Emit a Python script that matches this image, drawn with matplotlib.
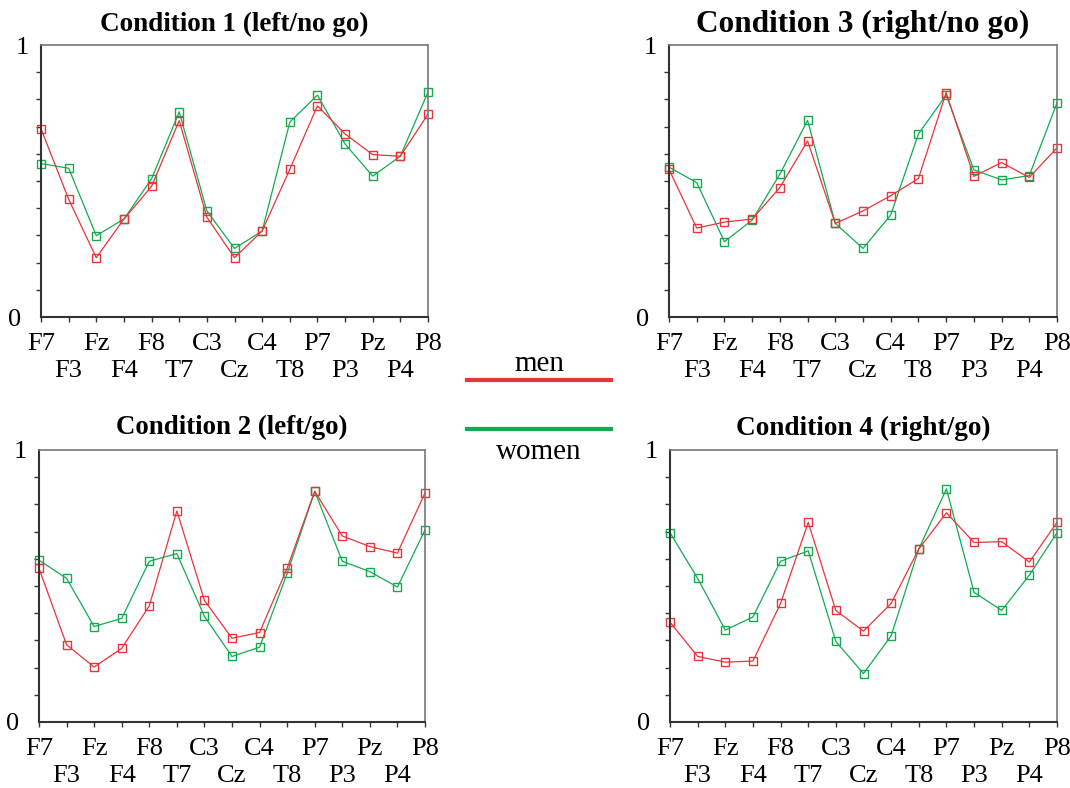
import matplotlib

matplotlib.use("Agg")
import matplotlib.pyplot as plt
from matplotlib.lines import Line2D
from matplotlib.transforms import ScaledTranslation

ELECTRODES = ["F7", "F3", "Fz", "F4", "F8", "T7", "C3", "Cz",
              "C4", "T8", "P7", "P3", "Pz", "P4", "P8"]

# condition 1 (left/no go)
c1_men = [0.692, 0.433, 0.218, 0.360, 0.480, 0.722, 0.367, 0.218,
          0.316, 0.543, 0.776, 0.673, 0.597, 0.591, 0.746]
c1_women = [0.564, 0.547, 0.299, 0.360, 0.508, 0.754, 0.390, 0.252,
            0.316, 0.716, 0.816, 0.636, 0.518, 0.591, 0.827]

# condition 2 (left/go)
c2_men = [0.565, 0.284, 0.202, 0.271, 0.427, 0.776, 0.447, 0.308,
          0.329, 0.565, 0.848, 0.684, 0.645, 0.621, 0.842]
c2_women = [0.595, 0.528, 0.351, 0.381, 0.591, 0.619, 0.388, 0.241,
            0.275, 0.546, 0.848, 0.591, 0.553, 0.496, 0.706]

# condition 3 (right/no go)
c3_men = [0.543, 0.327, 0.349, 0.360, 0.476, 0.647, 0.344, 0.390,
          0.446, 0.509, 0.825, 0.517, 0.568, 0.513, 0.622]
c3_women = [0.551, 0.494, 0.277, 0.356, 0.525, 0.723, 0.344, 0.252,
            0.375, 0.673, 0.816, 0.541, 0.504, 0.520, 0.787]

# condition 4 (right/go)
c4_men = [0.367, 0.241, 0.220, 0.224, 0.436, 0.734, 0.410, 0.334,
          0.436, 0.636, 0.769, 0.660, 0.663, 0.588, 0.734]
c4_women = [0.696, 0.528, 0.338, 0.386, 0.591, 0.629, 0.296, 0.178,
            0.317, 0.636, 0.857, 0.477, 0.410, 0.540, 0.696]

RED = "#e8343a"
GREEN = "#14aa50"
W, H = 1070, 788

plt.rcParams["font.family"] = ["Liberation Serif", "DejaVu Serif"]


def px_rect(left, top, right, bottom):
    return [left / W, (H - bottom) / H, (right - left) / W, (bottom - top) / H]


def panel(fig, rect, title, tsize, tpad, men, women):
    ax = fig.add_axes(px_rect(*rect))
    x = list(range(len(ELECTRODES)))
    for vals, col in ((women, GREEN), (men, RED)):
        ax.plot(x, vals, color=col, lw=0.9, marker="s", ms=5.5,
                mfc="none", mec=col, mew=1.0, clip_on=False)
    ax.set_xlim(0, len(ELECTRODES) - 1)
    ax.set_ylim(0, 1)
    ax.set_xticks(x)
    ax.set_xticklabels([e if i % 2 == 0 else "\n" + e
                        for i, e in enumerate(ELECTRODES)], fontsize=19,
                       linespacing=1.3)
    ax.set_yticks([0, 1])
    ax.set_yticklabels(["0", "1"], fontsize=19)
    ax.set_yticks([i / 10 for i in range(1, 10)], minor=True)
    ax.tick_params(axis="x", direction="out", length=3.5, width=1,
                   color="#333333", pad=8)
    ax.tick_params(axis="y", which="major", length=0, pad=14)
    ax.tick_params(axis="y", which="minor", direction="out", length=3.5,
                   width=1, color="#333333")
    # the "1" sits closer to the axis than the "0" in the original
    one = ax.get_yticklabels()[1]
    one.set_transform(one.get_transform()
                      + ScaledTranslation(5 / 72, 0, fig.dpi_scale_trans))
    for side in ("left", "bottom"):
        ax.spines[side].set_color("#333333")
        ax.spines[side].set_linewidth(1.5)
    for side in ("top", "right"):
        ax.spines[side].set_color("#777777")
        ax.spines[side].set_linewidth(1.2)
    ax.set_title(title, fontsize=tsize, fontweight="bold", pad=tpad)
    return ax


fig = plt.figure(figsize=(W / 100, H / 100), dpi=100)

panel(fig, (41, 45, 428, 317), "Condition 1 (left/no go)", 19.5, 10.3,
      c1_men, c1_women)
panel(fig, (669, 45, 1057, 317), "Condition 3 (right/no go)", 22.5, 9.6,
      c3_men, c3_women)
panel(fig, (39, 450, 425, 722), "Condition 2 (left/go)", 19.4, 11.5,
      c2_men, c2_women)
panel(fig, (670, 450, 1057, 722), "Condition 4 (right/go)", 19.6, 10.8,
      c4_men, c4_women)

# legend between the panels
fig.add_artist(Line2D([467 / W, 611 / W], [(H - 380) / H] * 2,
                      color=RED, lw=3))
fig.add_artist(Line2D([467 / W, 611 / W], [(H - 429) / H] * 2,
                      color=GREEN, lw=3))
fig.text(539 / W, (H - 371.5) / H, "men", fontsize=21, ha="center",
         va="baseline")
fig.text(539 / W, (H - 459) / H, "women", fontsize=21, ha="center",
         va="baseline")

fig.savefig("out.png", dpi=100)
